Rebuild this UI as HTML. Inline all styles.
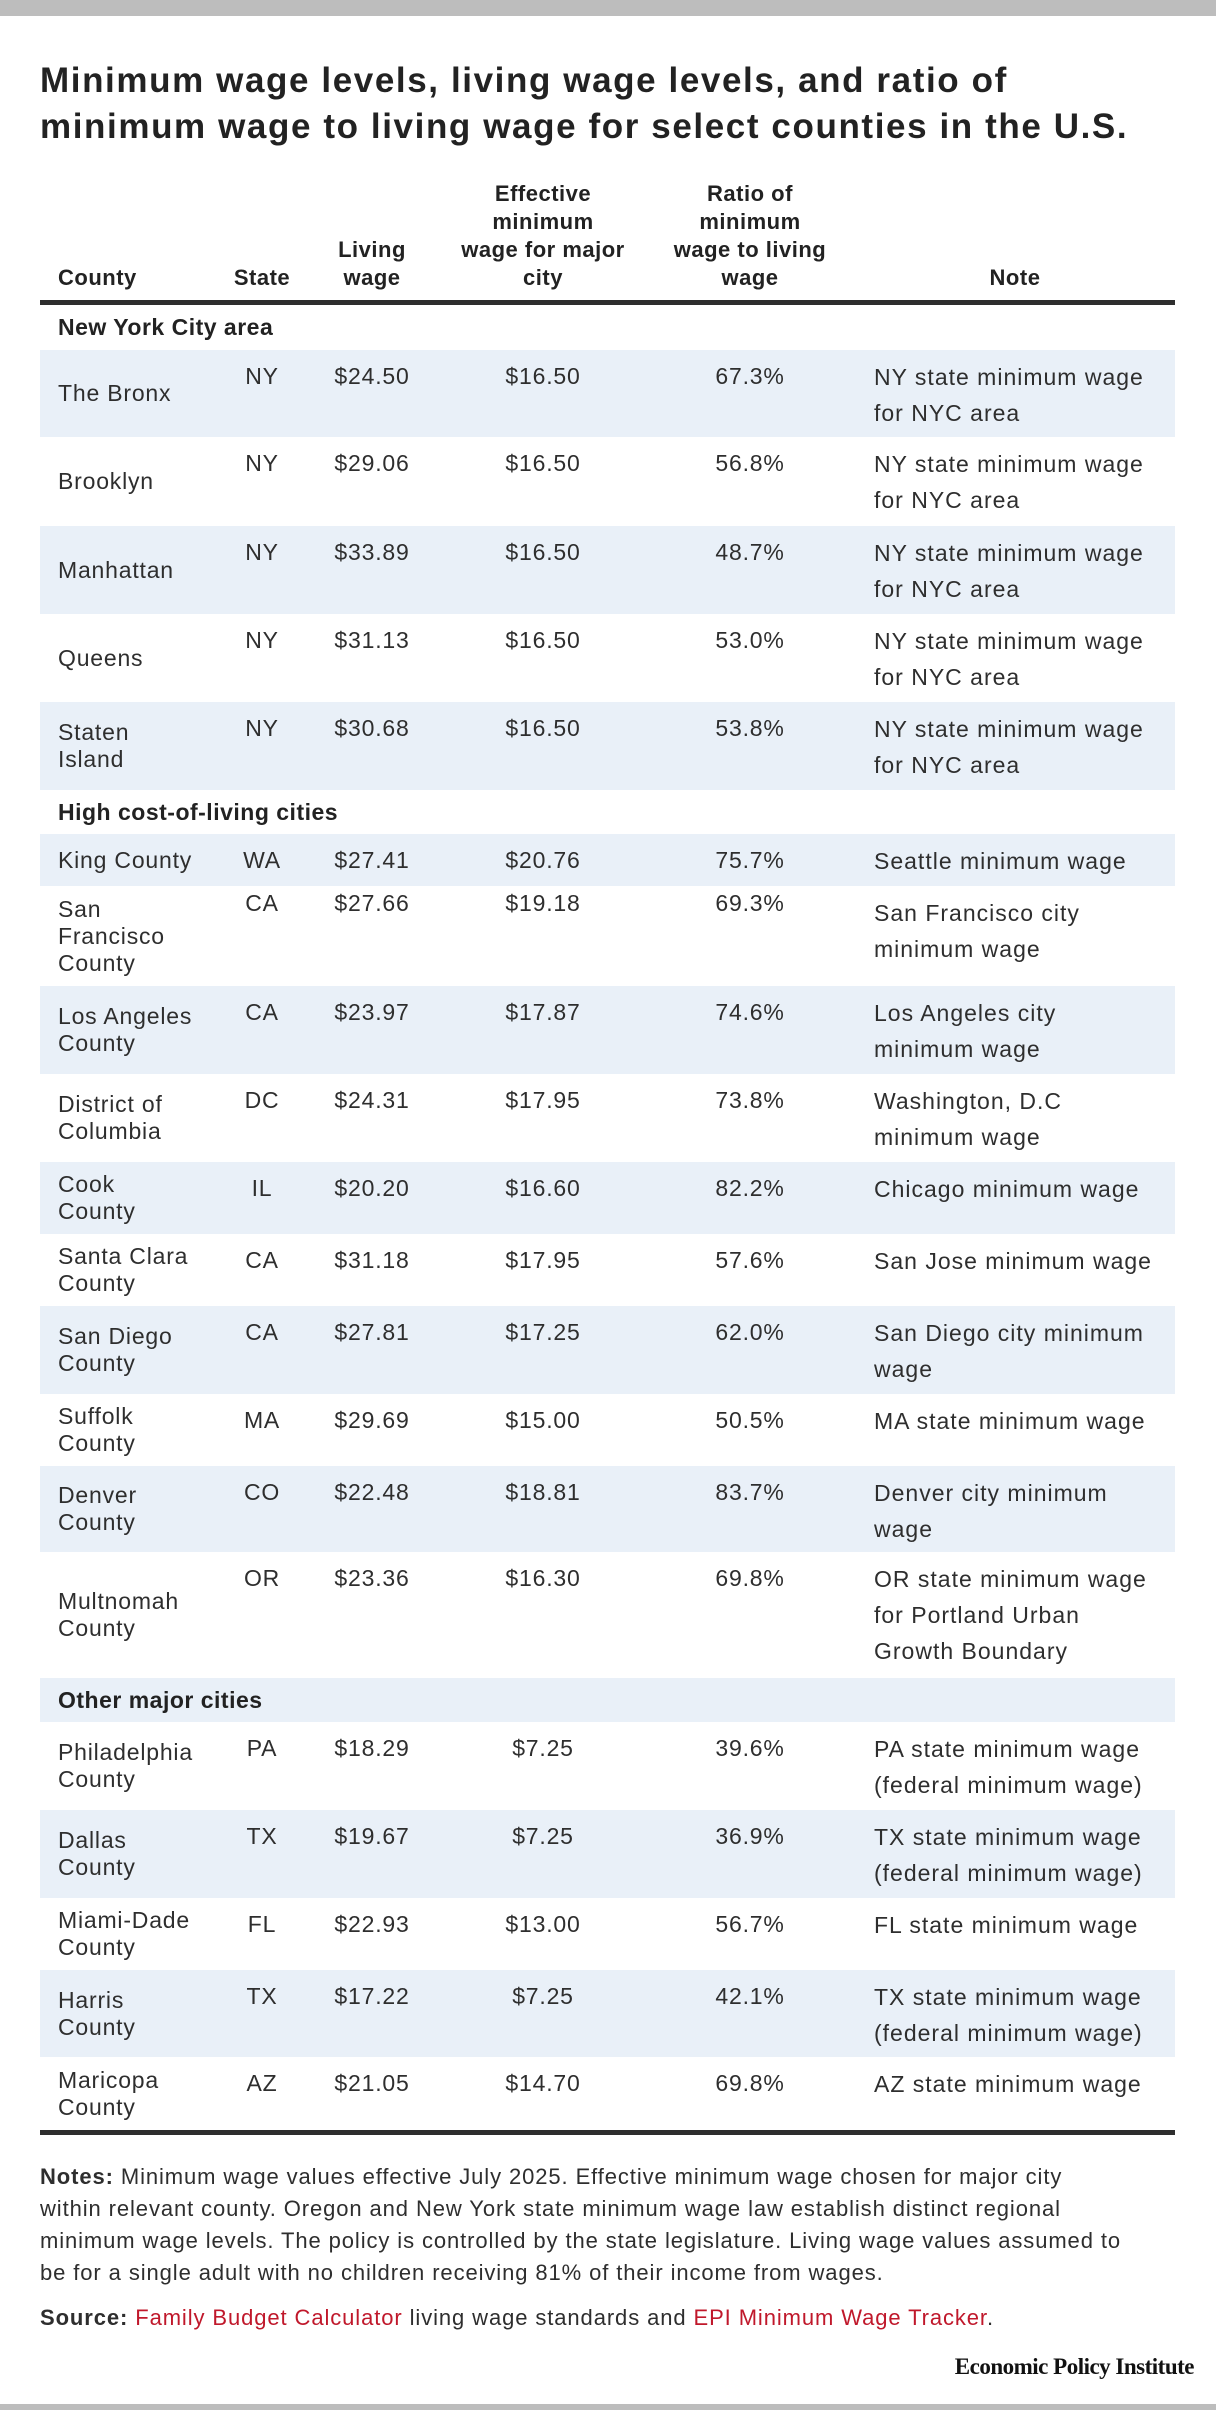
<!DOCTYPE html>
<html><head><meta charset="utf-8"><style>
*{margin:0;padding:0;box-sizing:border-box}
body{width:1216px;height:2410px;position:relative;background:#fff;font-family:"Liberation Sans",Arial,sans-serif;color:#2e2e2e;overflow:hidden}
.bar{position:absolute;left:0;width:1216px;background:#bdbdbd}
.title{position:absolute;left:40px;top:58px;font-size:35px;font-weight:bold;line-height:46px;color:#222;letter-spacing:1.6px;white-space:nowrap}
.h{position:absolute;font-size:22px;font-weight:bold;line-height:28px;text-align:center;color:#222;letter-spacing:0.5px;white-space:nowrap}
.rule{position:absolute;left:40px;width:1135px;height:5px;background:#2e2e2e}
.r{position:absolute;left:40px;width:1135px}
.s{background:#e9f0f8}
.c{position:absolute;left:18px;top:0;height:100%;display:flex;align-items:center;font-size:23px;line-height:27px;letter-spacing:0.8px;white-space:nowrap}
.d{position:absolute;top:9px;font-size:23px;line-height:35px;text-align:center;white-space:nowrap;letter-spacing:0.8px}
.st{left:182px;width:80px}.lw{left:272px;width:120px}.ef{left:433px;width:140px}.ra{left:640px;width:140px}
.n{position:absolute;left:834px;top:9px;font-size:23px;line-height:36px;white-space:nowrap;letter-spacing:1px}
.sec{position:absolute;left:18px;top:0;height:100%;display:flex;align-items:center;font-size:23px;font-weight:bold;color:#222;letter-spacing:0.5px}
.notes{position:absolute;left:40px;top:2161px;font-size:22px;line-height:32px;white-space:nowrap;letter-spacing:0.9px}
.src{position:absolute;left:40px;top:2302px;font-size:22px;line-height:32px;white-space:nowrap;letter-spacing:0.9px}
.red{color:#c0182b}
.epi{position:absolute;right:22px;top:2354px;font-family:"Liberation Serif",serif;font-weight:bold;font-size:23px;color:#111;letter-spacing:-0.5px}
</style></head><body>
<div class="bar" style="top:0;height:16px"></div>
<div class="title">Minimum wage levels, living wage levels, and ratio of<br>minimum wage to living wage for select counties in the U.S.</div>

<div class="h" style="left:58px;top:264px;text-align:left">County</div>
<div class="h" style="left:222px;top:264px;width:80px">State</div>
<div class="h" style="left:312px;top:236px;width:120px">Living<br>wage</div>
<div class="h" style="left:443px;top:180px;width:200px">Effective<br>minimum<br>wage for major<br>city</div>
<div class="h" style="left:650px;top:180px;width:200px">Ratio of<br>minimum<br>wage to living<br>wage</div>
<div class="h" style="left:965px;top:264px;width:100px">Note</div>
<div class="rule" style="top:300px"></div>

<div class="r" style="top:305px;height:45px"><div class="sec">New York City area</div></div>

<div class="r s" style="top:350px;height:87px"><div class="c">The Bronx</div><div class="d st">NY</div><div class="d lw">$24.50</div><div class="d ef">$16.50</div><div class="d ra">67.3%</div><div class="n">NY state minimum wage<br>for NYC area</div></div>
<div class="r" style="top:437px;height:89px"><div class="c">Brooklyn</div><div class="d st">NY</div><div class="d lw">$29.06</div><div class="d ef">$16.50</div><div class="d ra">56.8%</div><div class="n">NY state minimum wage<br>for NYC area</div></div>
<div class="r s" style="top:526px;height:88px"><div class="c">Manhattan</div><div class="d st">NY</div><div class="d lw">$33.89</div><div class="d ef">$16.50</div><div class="d ra">48.7%</div><div class="n">NY state minimum wage<br>for NYC area</div></div>
<div class="r" style="top:614px;height:88px"><div class="c">Queens</div><div class="d st">NY</div><div class="d lw">$31.13</div><div class="d ef">$16.50</div><div class="d ra">53.0%</div><div class="n">NY state minimum wage<br>for NYC area</div></div>
<div class="r s" style="top:702px;height:88px"><div class="c">Staten<br>Island</div><div class="d st">NY</div><div class="d lw">$30.68</div><div class="d ef">$16.50</div><div class="d ra">53.8%</div><div class="n">NY state minimum wage<br>for NYC area</div></div>

<div class="r" style="top:790px;height:44px"><div class="sec">High cost-of-living cities</div></div>

<div class="r s" style="top:834px;height:52px"><div class="c">King County</div><div class="d st">WA</div><div class="d lw">$27.41</div><div class="d ef">$20.76</div><div class="d ra">75.7%</div><div class="n">Seattle minimum wage</div></div>
<div class="r" style="top:886px;height:100px"><div class="c">San<br>Francisco<br>County</div><div class="d st" style="top:0">CA</div><div class="d lw" style="top:0">$27.66</div><div class="d ef" style="top:0">$19.18</div><div class="d ra" style="top:0">69.3%</div><div class="n">San Francisco city<br>minimum wage</div></div>
<div class="r s" style="top:986px;height:88px"><div class="c">Los Angeles<br>County</div><div class="d st">CA</div><div class="d lw">$23.97</div><div class="d ef">$17.87</div><div class="d ra">74.6%</div><div class="n">Los Angeles city<br>minimum wage</div></div>
<div class="r" style="top:1074px;height:88px"><div class="c">District of<br>Columbia</div><div class="d st">DC</div><div class="d lw">$24.31</div><div class="d ef">$17.95</div><div class="d ra">73.8%</div><div class="n">Washington, D.C<br>minimum wage</div></div>
<div class="r s" style="top:1162px;height:72px"><div class="c">Cook<br>County</div><div class="d st">IL</div><div class="d lw">$20.20</div><div class="d ef">$16.60</div><div class="d ra">82.2%</div><div class="n">Chicago minimum wage</div></div>
<div class="r" style="top:1234px;height:72px"><div class="c">Santa Clara<br>County</div><div class="d st">CA</div><div class="d lw">$31.18</div><div class="d ef">$17.95</div><div class="d ra">57.6%</div><div class="n">San Jose minimum wage</div></div>
<div class="r s" style="top:1306px;height:88px"><div class="c">San Diego<br>County</div><div class="d st">CA</div><div class="d lw">$27.81</div><div class="d ef">$17.25</div><div class="d ra">62.0%</div><div class="n">San Diego city minimum<br>wage</div></div>
<div class="r" style="top:1394px;height:72px"><div class="c">Suffolk<br>County</div><div class="d st">MA</div><div class="d lw">$29.69</div><div class="d ef">$15.00</div><div class="d ra">50.5%</div><div class="n">MA state minimum wage</div></div>
<div class="r s" style="top:1466px;height:86px"><div class="c">Denver<br>County</div><div class="d st">CO</div><div class="d lw">$22.48</div><div class="d ef">$18.81</div><div class="d ra">83.7%</div><div class="n">Denver city minimum<br>wage</div></div>
<div class="r" style="top:1552px;height:126px"><div class="c">Multnomah<br>County</div><div class="d st">OR</div><div class="d lw">$23.36</div><div class="d ef">$16.30</div><div class="d ra">69.8%</div><div class="n">OR state minimum wage<br>for Portland Urban<br>Growth Boundary</div></div>

<div class="r s" style="top:1678px;height:44px"><div class="sec">Other major cities</div></div>

<div class="r" style="top:1722px;height:88px"><div class="c">Philadelphia<br>County</div><div class="d st">PA</div><div class="d lw">$18.29</div><div class="d ef">$7.25</div><div class="d ra">39.6%</div><div class="n">PA state minimum wage<br>(federal minimum wage)</div></div>
<div class="r s" style="top:1810px;height:88px"><div class="c">Dallas<br>County</div><div class="d st">TX</div><div class="d lw">$19.67</div><div class="d ef">$7.25</div><div class="d ra">36.9%</div><div class="n">TX state minimum wage<br>(federal minimum wage)</div></div>
<div class="r" style="top:1898px;height:72px"><div class="c">Miami-Dade<br>County</div><div class="d st">FL</div><div class="d lw">$22.93</div><div class="d ef">$13.00</div><div class="d ra">56.7%</div><div class="n">FL state minimum wage</div></div>
<div class="r s" style="top:1970px;height:87px"><div class="c">Harris<br>County</div><div class="d st">TX</div><div class="d lw">$17.22</div><div class="d ef">$7.25</div><div class="d ra">42.1%</div><div class="n">TX state minimum wage<br>(federal minimum wage)</div></div>
<div class="r" style="top:2057px;height:73px"><div class="c">Maricopa<br>County</div><div class="d st">AZ</div><div class="d lw">$21.05</div><div class="d ef">$14.70</div><div class="d ra">69.8%</div><div class="n">AZ state minimum wage</div></div>
<div class="rule" style="top:2130px"></div>

<div class="notes"><b>Notes:</b> Minimum wage values effective July 2025. Effective minimum wage chosen for major city<br>within relevant county. Oregon and New York state minimum wage law establish distinct regional<br>minimum wage levels. The policy is controlled by the state legislature. Living wage values assumed to<br>be for a single adult with no children receiving 81% of their income from wages.</div>
<div class="src"><b>Source:</b> <span class="red">Family Budget Calculator</span> living wage standards and <span class="red">EPI Minimum Wage Tracker</span>.</div>
<div class="epi">Economic Policy Institute</div>
<div class="bar" style="top:2404px;height:6px"></div>
</body></html>
